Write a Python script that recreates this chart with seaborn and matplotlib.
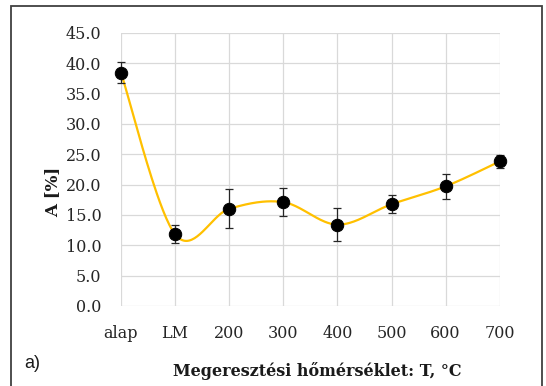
import numpy as np
import pandas as pd
import matplotlib
matplotlib.use("Agg")
import matplotlib.pyplot as plt
import seaborn as sns
from matplotlib.patches import Rectangle

categories = ["alap", "LM", "200", "300", "400", "500", "600", "700"]
values = [38.4, 11.8, 16.0, 17.1, 13.4, 16.75, 19.7, 23.8]
errors = [1.7, 1.5, 3.2, 2.3, 2.7, 1.5, 2.0, 1.0]
yticks = [0.0, 5.0, 10.0, 15.0, 20.0, 25.0, 30.0, 35.0, 40.0, 45.0]

sns.set_theme(style="white")
plt.rcParams['font.family'] = ['DejaVu Serif']

df = pd.DataFrame({"cat": categories, "x": np.arange(len(categories)), "A": values, "err": errors})

# Excel-style smoothed curve (Bezier with Catmull-Rom tangents)
P = df[["x", "A"]].to_numpy(dtype=float)
n = len(P)
curve = []
for i in range(n - 1):
    p0 = P[i - 1] if i > 0 else P[i]
    p1 = P[i]
    p2 = P[i + 1]
    p3 = P[i + 2] if i + 2 < n else P[i + 1]
    c1 = p1 + (p2 - p0) / 6.0
    c2 = p2 - (p3 - p1) / 6.0
    t = np.linspace(0, 1, 40)[:, None]
    seg = (1 - t) ** 3 * p1 + 3 * (1 - t) ** 2 * t * c1 + 3 * (1 - t) * t ** 2 * c2 + t ** 3 * p2
    curve.append(seg if i == 0 else seg[1:])
curve = np.vstack(curve)
smooth = pd.DataFrame({"x": curve[:, 0], "A": curve[:, 1]})

fig = plt.figure(figsize=(5.46, 3.86), dpi=100)
ax = fig.add_axes([121 / 546, 1 - 306 / 386, (499.7 - 121) / 546, (306 - 32.7) / 386])

sns.lineplot(data=smooth, x="x", y="A", ax=ax, color="#FFC000", linewidth=1.6, sort=False, zorder=2)
eb = ax.errorbar(df["x"], df["A"], yerr=df["err"], fmt="none", ecolor="#262626",
                 elinewidth=0.9, capsize=3, capthick=0.9, zorder=3)
for art in eb.lines[1] + eb.lines[2]:
    art.set_clip_on(False)
sns.scatterplot(data=df, x="x", y="A", ax=ax, color="black", s=80, edgecolor="black",
                zorder=4, legend=False, clip_on=False)

ax.set_xlim(0, len(categories) - 1)
ax.set_ylim(0, 45)
ax.set_xticks(df["x"])
ax.set_xticklabels(categories)
ax.set_yticks(yticks)
ax.set_yticklabels([f"{v:.1f}" for v in yticks])
ax.tick_params(axis="x", labelsize=11.5, pad=14, length=0, colors="#262626")
ax.tick_params(axis="y", labelsize=11.5, pad=14, length=0, colors="#262626")
ax.grid(True, color="#d9d9d9", linewidth=0.9)
ax.set_axisbelow(True)
for s in ax.spines.values():
    s.set_visible(False)
ax.set_xlabel("")
ax.set_ylabel("")

fig.text(317 / 546, 1 - 371 / 386, "Megeresztési hőmérséklet: T, °C", ha="center", va="center",
         fontsize=11.5, fontweight="bold", color="#1a1a1a")
fig.text(53 / 546, 1 - 192 / 386, "A [%]", ha="center", va="center", rotation=90,
         fontsize=12, fontweight="bold", color="#1a1a1a")
fig.text(32 / 546, 1 - 363 / 386, "a)", ha="center", va="center", fontsize=13,
         family=["Liberation Sans", "DejaVu Sans"], color="#1a1a1a")

fig.patches.append(Rectangle((11 / 546, -0.01), (542 - 11) / 546, 1 - 6 / 386 + 0.01,
                             transform=fig.transFigure, fill=False, edgecolor="#404040",
                             linewidth=1.3, zorder=0))

fig.savefig("out.png", dpi=100)
